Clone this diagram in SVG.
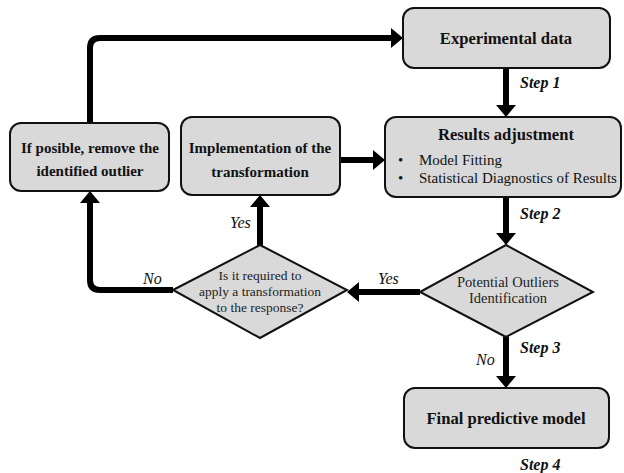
<svg xmlns="http://www.w3.org/2000/svg" width="624" height="473" viewBox="0 0 624 473">
<style>
text{font-family:"Liberation Serif","Times New Roman","DejaVu Serif",serif;fill:#111}
.box{fill:#d9d9d9;stroke:#111;stroke-width:2}
.m{text-anchor:middle}
.b{font-weight:bold;font-size:15px}
.bb{font-weight:bold;font-size:16.6px}
.r{font-size:15px}
.d{font-size:13.5px;fill:#222}
.s{font-style:italic;font-weight:bold;font-size:16px}
.l{font-style:italic;font-size:16px}
.c{fill:none;stroke:#000;stroke-width:6}
</style>
<defs>
<marker id="ah" markerUnits="userSpaceOnUse" markerWidth="13" markerHeight="20" viewBox="0 0 13 20" refX="1" refY="10" orient="auto">
<path d="M0,0 L12,10 L0,20 Z" fill="#000"/>
</marker>
</defs>
<g id="connectors">
<path class="c" d="M90,123 V48 Q90,38 100,38 H392" marker-end="url(#ah)"/>
<path class="c" d="M506,68 V106" marker-end="url(#ah)"/>
<path class="c" d="M340,160 H374" marker-end="url(#ah)"/>
<path class="c" d="M506,197 V234" marker-end="url(#ah)"/>
<path class="c" d="M420,292 H358" marker-end="url(#ah)"/>
<path class="c" d="M260,245 V206" marker-end="url(#ah)"/>
<path class="c" d="M173,290 H100 Q90,290 90,280 V202" marker-end="url(#ah)"/>
<path class="c" d="M506,337 V377" marker-end="url(#ah)"/>
</g>
<g id="experimental">
<rect class="box" x="403" y="8" width="207" height="60" rx="11"/>
<text class="m bb" x="506" y="44">Experimental data</text>
</g>
<g id="results">
<rect class="box" x="385" y="117" width="236" height="80" rx="11"/>
<text class="m bb" x="506" y="140">Results adjustment</text>
<text class="r" x="398" y="165">•</text>
<text class="r" x="419" y="165">Model Fitting</text>
<text class="r" x="398" y="183">•</text>
<text class="r" x="419" y="183">Statistical Diagnostics of Results</text>
</g>
<g id="implementation">
<rect class="box" x="181" y="117" width="159" height="78" rx="11"/>
<text class="m b" x="260" y="153">Implementation of the</text>
<text class="m b" x="260" y="177">transformation</text>
</g>
<g id="remove">
<rect class="box" x="10" y="123" width="159" height="68" rx="11"/>
<text class="m b" x="90" y="153">If posible, remove the</text>
<text class="m b" x="90" y="176">identified outlier</text>
</g>
<g id="transform-q">
<polygon class="box" points="173,290 260,245 347,290 260,338"/>
<text class="m d" x="260" y="280">Is it required to</text>
<text class="m d" x="260" y="296">apply a transformation</text>
<text class="m d" x="260" y="312">to  the response?</text>
</g>
<g id="outliers">
<polygon class="box" points="420,292 506,245 593,292 506,337"/>
<text class="m d" x="508" y="287" style="font-size:14.5px">Potential Outliers</text>
<text class="m d" x="508" y="303" style="font-size:14.5px">Identification</text>
</g>
<g id="final">
<rect class="box" x="404" y="388" width="205" height="60" rx="11"/>
<text class="m bb" x="506" y="424">Final predictive model</text>
</g>
<g id="labels">
<text class="s" x="520" y="88">Step 1</text>
<text class="s" x="520" y="219">Step 2</text>
<text class="s" x="520" y="353">Step 3</text>
<text class="s" x="520" y="470">Step 4</text>
<text class="l" x="476" y="365">No</text>
<text class="l" x="378" y="284">Yes</text>
<text class="l" x="143" y="284">No</text>
<text class="l" x="230" y="228">Yes</text>
</g>
</svg>
